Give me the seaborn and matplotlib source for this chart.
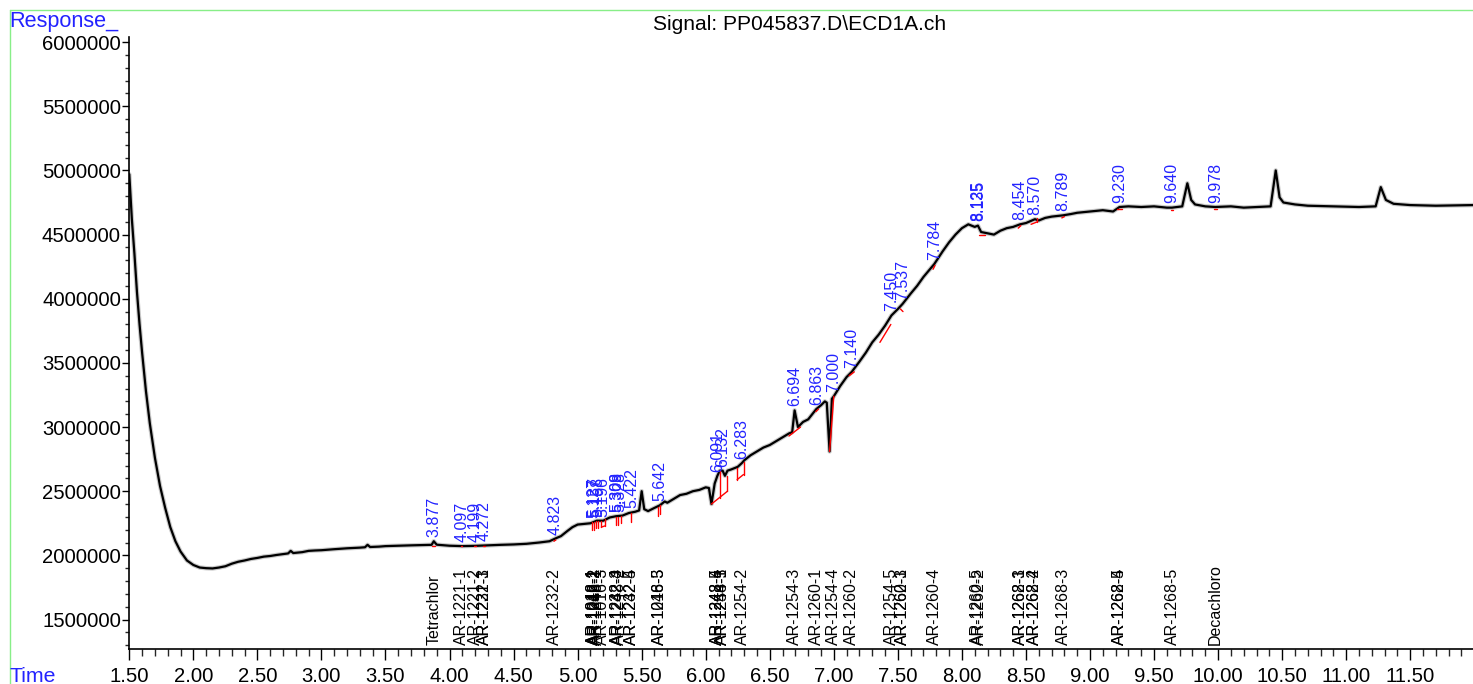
import numpy as np
import matplotlib
matplotlib.use("Agg")
import matplotlib.pyplot as plt
from matplotlib.lines import Line2D
from matplotlib.ticker import MultipleLocator, StrMethodFormatter
import matplotlib.transforms as mtransforms
import seaborn as sns

# ---------------- data ----------------
title_text = r"Signal: PP045837.D\ECD1A.ch"

trace_time = [
    1.500, 1.520, 1.540, 1.560, 1.580, 1.600, 1.630, 1.660, 1.700, 1.740,
    1.780, 1.820, 1.860, 1.900, 1.950, 2.000, 2.050, 2.100, 2.150, 2.200,
    2.250, 2.300, 2.350, 2.400, 2.450, 2.500, 2.550, 2.600, 2.650, 2.700,
    2.740, 2.760, 2.780, 2.850, 2.900, 2.950, 3.000, 3.100, 3.200, 3.300,
    3.340, 3.360, 3.380, 3.450, 3.500, 3.600, 3.700, 3.800, 3.860, 3.877,
    3.900, 4.000, 4.100, 4.200, 4.300, 4.400, 4.500, 4.600, 4.700, 4.780,
    4.823, 4.870, 4.920, 4.960, 5.000, 5.050, 5.100, 5.150, 5.200, 5.250,
    5.300, 5.350, 5.400, 5.450, 5.480, 5.500, 5.520, 5.550, 5.600, 5.642,
    5.680, 5.700, 5.750, 5.800, 5.850, 5.900, 5.950, 6.000, 6.025, 6.045,
    6.070, 6.091, 6.110, 6.132, 6.150, 6.170, 6.200, 6.250, 6.283, 6.300,
    6.350, 6.400, 6.450, 6.500, 6.550, 6.600, 6.650, 6.675, 6.694, 6.720,
    6.760, 6.800, 6.840, 6.863, 6.900, 6.930, 6.945, 6.967, 6.985, 7.000,
    7.050, 7.100, 7.140, 7.200, 7.250, 7.300, 7.350, 7.400, 7.450, 7.500,
    7.537, 7.600, 7.650, 7.700, 7.750, 7.784, 7.850, 7.900, 7.950, 8.000,
    8.050, 8.100, 8.125, 8.150, 8.200, 8.250, 8.300, 8.350, 8.400, 8.454,
    8.500, 8.570, 8.600, 8.650, 8.700, 8.789, 8.850, 8.900, 9.000, 9.100,
    9.180, 9.230, 9.300, 9.400, 9.500, 9.600, 9.640, 9.720, 9.760, 9.790,
    9.820, 9.900, 9.978, 10.100, 10.200, 10.300, 10.410, 10.450, 10.480, 10.510,
    10.600, 10.700, 10.900, 11.100, 11.230, 11.270, 11.310, 11.370, 11.500, 11.700,
    11.990,
]
trace_resp = [
    4970000, 4620000, 4350000, 4050000, 3800000, 3580000, 3280000, 3030000, 2760000, 2540000,
    2370000, 2220000, 2110000, 2030000, 1960000, 1925000, 1905000, 1900000, 1898000, 1905000,
    1915000, 1935000, 1950000, 1960000, 1972000, 1980000, 1990000, 1995000, 2003000, 2010000,
    2015000, 2035000, 2018000, 2025000, 2035000, 2038000, 2040000, 2048000, 2055000, 2060000,
    2063000, 2082000, 2065000, 2068000, 2072000, 2075000, 2078000, 2080000, 2082000, 2110000,
    2083000, 2075000, 2072000, 2074000, 2078000, 2082000, 2085000, 2090000, 2100000, 2110000,
    2130000, 2150000, 2190000, 2220000, 2240000, 2245000, 2250000, 2270000, 2270000, 2295000,
    2305000, 2310000, 2330000, 2340000, 2350000, 2500000, 2360000, 2345000, 2370000, 2390000,
    2420000, 2410000, 2440000, 2470000, 2480000, 2500000, 2510000, 2530000, 2525000, 2400000,
    2560000, 2620000, 2660000, 2660000, 2620000, 2660000, 2670000, 2690000, 2720000, 2740000,
    2780000, 2810000, 2840000, 2860000, 2890000, 2920000, 2950000, 2960000, 3130000, 3000000,
    3040000, 3060000, 3110000, 3140000, 3170000, 3200000, 3190000, 2810000, 3220000, 3240000,
    3320000, 3390000, 3430000, 3510000, 3580000, 3660000, 3720000, 3790000, 3870000, 3920000,
    3960000, 4040000, 4100000, 4170000, 4230000, 4270000, 4370000, 4440000, 4500000, 4550000,
    4580000, 4560000, 4570000, 4520000, 4510000, 4500000, 4530000, 4550000, 4560000, 4580000,
    4590000, 4620000, 4610000, 4630000, 4640000, 4650000, 4660000, 4670000, 4680000, 4690000,
    4680000, 4715000, 4720000, 4715000, 4720000, 4710000, 4710000, 4720000, 4900000, 4770000,
    4735000, 4720000, 4715000, 4720000, 4710000, 4715000, 4720000, 5000000, 4790000, 4750000,
    4735000, 4725000, 4720000, 4715000, 4720000, 4870000, 4770000, 4740000, 4730000, 4725000,
    4730000,
]

# integration baseline segments (red): start time, start response, end time, end response
base_t0 = [3.865, 4.090, 4.190, 4.265, 4.815, 5.115, 5.125, 5.145, 5.160, 5.185, 5.185, 5.215,
           5.300, 5.315, 5.335, 5.415, 5.630, 5.645, 6.045, 6.110, 6.170, 6.245, 6.245, 6.295,
           6.650, 6.860, 6.967, 7.120, 7.360, 7.520, 7.775, 8.130, 8.440, 8.540, 8.590, 8.780,
           9.210, 9.630, 9.970]
base_r0 = [2075000, 2070000, 2070000, 2070000, 2110000, 2260000, 2260000, 2270000, 2270000, 2270000, 2220000, 2230000,
           2300000, 2300000, 2310000, 2330000, 2380000, 2390000, 2400000, 2450000, 2500000, 2680000, 2590000, 2630000,
           2930000, 3120000, 2810000, 3400000, 3660000, 3920000, 4230000, 4500000, 4550000, 4580000, 4600000, 4630000,
           4700000, 4690000, 4700000]
base_t1 = [3.885, 4.100, 4.205, 4.280, 4.830, 5.115, 5.125, 5.145, 5.160, 5.185, 5.215, 5.215,
           5.300, 5.315, 5.335, 5.415, 5.630, 5.645, 6.170, 6.110, 6.170, 6.245, 6.295, 6.295,
           6.740, 6.880, 7.000, 7.160, 7.445, 7.540, 7.790, 8.180, 8.460, 8.590, 8.590, 8.800,
           9.250, 9.650, 9.990]
base_r1 = [2075000, 2070000, 2070000, 2070000, 2120000, 2200000, 2200000, 2210000, 2210000, 2220000, 2230000, 2280000,
           2240000, 2240000, 2250000, 2260000, 2310000, 2320000, 2500000, 2660000, 2620000, 2590000, 2630000, 2730000,
           3000000, 3140000, 3240000, 3430000, 3800000, 3900000, 4260000, 4500000, 4570000, 4600000, 4630000, 4640000,
           4700000, 4690000, 4700000]

# retention times of integrated peaks (blue labels)
peak_rt = [3.877, 4.097, 4.199, 4.272, 4.823, 5.127, 5.137, 5.158, 5.196, 5.308, 5.309, 5.328,
           5.422, 5.642, 6.091, 6.132, 6.283, 6.694, 6.863, 7.000, 7.140, 7.450, 7.537, 7.784,
           8.125, 8.135, 8.454, 8.570, 8.789, 9.230, 9.640, 9.978]

# expected compound windows (black labels)
compound_names = ["Tetrachlor", "AR-1221-1", "AR-1221-2", "AR-1232-1", "AR-1221-3", "AR-1232-2",
                  "AR-1016-1", "AR-1242-1", "AR-1016-2", "AR-1242-2", "AR-1248-1", "AR-1016-3",
                  "AR-1232-4", "AR-1242-3", "AR-1248-2", "AR-1232-5", "AR-1242-4", "AR-1016-5",
                  "AR-1248-3", "AR-1242-5", "AR-1248-4", "AR-1248-5", "AR-1254-1", "AR-1254-2",
                  "AR-1254-3", "AR-1260-1", "AR-1254-4", "AR-1260-2", "AR-1254-5", "AR-1260-3",
                  "AR-1262-1", "AR-1260-4", "AR-1260-5", "AR-1262-2", "AR-1268-1", "AR-1262-3",
                  "AR-1262-4", "AR-1268-2", "AR-1268-3", "AR-1262-5", "AR-1268-4", "AR-1268-5",
                  "Decachloro"]
compound_rt = [3.877, 4.097, 4.199, 4.272, 4.272, 4.823,
               5.123, 5.127, 5.137, 5.137, 5.158, 5.196,
               5.308, 5.309, 5.328, 5.422, 5.422, 5.642,
               5.642, 6.091, 6.091, 6.132, 6.132, 6.283,
               6.694, 6.863, 7.000, 7.140, 7.450, 7.537,
               7.537, 7.784, 8.125, 8.135, 8.454, 8.454,
               8.570, 8.570, 8.789, 9.230, 9.230, 9.640,
               9.978]

x_major = 0.5
y_major = 500000

# ---------------- style ----------------
sns.set_style("ticks")
plt.rcParams['font.family'] = ['Liberation Sans', 'DejaVu Sans']

W, H = 1473, 684
fig = plt.figure(figsize=(W / 100, H / 100), dpi=100)
ax_left, ax_right, ax_top, ax_bot = 129.3, 1473, 37, 648.5
ax = fig.add_axes([ax_left / W, 1 - ax_bot / H, (ax_right - ax_left) / W, (ax_bot - ax_top) / H])

BLUE = '#2323ff'

# soft halo under the trace (detector noise look), then the trace itself
sns.lineplot(x=trace_time, y=trace_resp, ax=ax, color='#888888', lw=3.2, alpha=0.45,
             estimator=None, sort=False)
sns.lineplot(x=trace_time, y=trace_resp, ax=ax, color='black', lw=1.6,
             estimator=None, sort=False)

for t0, r0, t1, r1 in zip(base_t0, base_r0, base_t1, base_r1):
    ax.plot([t0, t1], [r0, r1], color='red', lw=1.0)

tt = np.array(trace_time)
rr = np.array(trace_resp)
for rt in peak_rt:
    win = (tt >= rt - 0.015) & (tt <= rt + 0.015)
    top = max(np.interp(rt, tt, rr), rr[win].max() if win.any() else 0)
    ax.annotate(f"{rt:.3f}", xy=(rt, top), xytext=(0, 3), textcoords='offset points',
                rotation=90, ha='center', va='bottom', color=BLUE, fontsize=11.5)

blend = mtransforms.blended_transform_factory(ax.transData, ax.transAxes)
for name, rt in zip(compound_names, compound_rt):
    ax.text(rt, 0.006, name, transform=blend, rotation=90, ha='center', va='bottom',
            color='black', fontsize=11.5)

ax.set_xlim(1.5, 11.99)
ax.set_ylim(1274000, 6040000)
ax.xaxis.set_major_locator(MultipleLocator(x_major))
ax.xaxis.set_minor_locator(MultipleLocator(0.1))
ax.yaxis.set_major_locator(MultipleLocator(y_major))
ax.yaxis.set_minor_locator(MultipleLocator(100000))
ax.xaxis.set_major_formatter(StrMethodFormatter('{x:.2f}'))
ax.yaxis.set_major_formatter(StrMethodFormatter('{x:.0f}'))
ax.tick_params(axis='both', which='major', labelsize=14.6, colors='black', width=1.0)
ax.tick_params(axis='x', which='major', length=8, pad=5)
ax.tick_params(axis='x', which='minor', length=5, width=1.0)
ax.tick_params(axis='y', which='major', length=5, pad=1)
ax.tick_params(axis='y', which='minor', length=3, width=1.0)
ax.set_xlabel('')
ax.set_ylabel('')
for s in ['top', 'right']:
    ax.spines[s].set_visible(False)
for s in ['left', 'bottom']:
    ax.spines[s].set_color('black')
    ax.spines[s].set_linewidth(1.2)
ax.set_facecolor('white')

# frame lines (light green)
GREEN = '#88ee88'
fig.add_artist(Line2D([9.5 / W, 9.5 / W], [0, 1 - 10 / H], transform=fig.transFigure, color=GREEN, lw=1))
fig.add_artist(Line2D([9.5 / W, 1], [1 - 10 / H, 1 - 10 / H], transform=fig.transFigure, color=GREEN, lw=1))

fig.text(9 / W, 1 - 21 / H, "Response_", color=BLUE, fontsize=15.6, ha='left', va='center')
fig.text(9 / W, 1 - 676 / H, "Time", color=BLUE, fontsize=15.3, ha='left', va='center')
fig.text(800 / W, 1 - 25 / H, title_text, color='black', fontsize=15.1, ha='center', va='center')

fig.savefig("out.png", dpi=100, facecolor='white')
